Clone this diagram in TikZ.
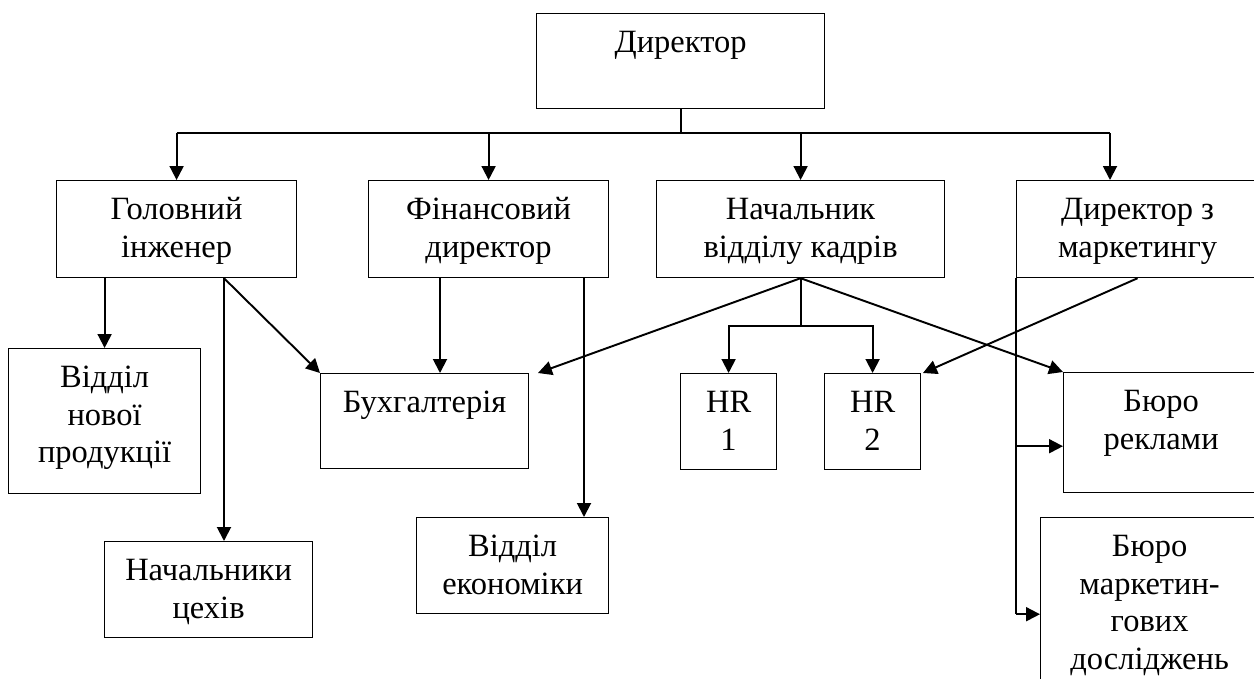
\documentclass[tikz,border=0pt]{standalone}
\usepackage{fontspec}
\setmainfont{Liberation Serif}
\usetikzlibrary{arrows.meta,positioning,calc}
\newlength{\pxu}
\setlength{\pxu}{0.2mm}
% text of a box, set from the top: width, height, text
\newcommand{\unittext}[3]{\parbox[t][#2\pxu][t]{#1\pxu}{\centering\strut #3}}

\begin{document}
\begin{tikzpicture}[x=0.02cm,y=-0.02cm,
  unit/.style={draw, line width=0.7pt, anchor=north west, inner xsep=0pt, inner ysep=2.6mm,
    font=\fontsize{18.5}{21.3}\selectfont},
  link/.style={line width=1.1pt},
  arr/.style={link, -{Triangle[length=2.8mm,width=2.8mm]}}]
\useasboundingbox (0,0) rectangle (1254,679);
% the boxes
\node[unit] (dir) at (536,13) {\unittext{288}{69}{Директор}};
\node[unit] (eng) at (56,180) {\unittext{240}{71}{Головний\\інженер}};
\node[unit] (fin) at (368,180) {\unittext{240}{71}{Фінансовий\\директор}};
\node[unit] (hr) at (656,180) {\unittext{288}{71}{Начальник\\відділу кадрів}};
\node[unit] (mkt) at (1016,180) {\unittext{242}{71}{Директор з\\маркетингу}};
\node[unit] (newp) at (8,348) {\unittext{192}{119}{Відділ\\нової\\продукції}};
\node[unit] (acc) at (320,373) {\unittext{208}{69}{Бухгалтерія}};
\node[unit] (hr1) at (680,373) {\unittext{96}{70}{HR\\1}};
\node[unit] (hr2) at (824,373) {\unittext{96}{70}{HR\\2}};
\node[unit] (adv) at (1063,372) {\unittext{195}{94}{Бюро\\реклами}};
\node[unit] (shops) at (104,541) {\unittext{208}{70}{Начальники\\цехів}};
\node[unit] (econ) at (416,517) {\unittext{192}{70}{Відділ\\економіки}};
\node[unit] (res) at (1040,517) {\unittext{218}{154}{Бюро\\маркетин-\\гових\\досліджень}};
% the director and the bus
\coordinate (mktin) at ($(mkt.north west)+(94,0)$);
\draw[link] (dir.south) -- ++(0,24) coordinate (bus);
\draw[link] (bus -| eng.north) -- (bus -| mktin);
\foreach \n in {eng,fin,hr}
  \draw[arr] (bus -| \n.north) -- (\n.north);
\draw[arr] (bus -| mktin) -- (mktin);
% chief engineer
\coordinate (engR) at ($(eng.south west)+(168,0)$);
\draw[arr] (eng.south -| newp.north) -- (newp.north);
\draw[arr] (engR) -- (engR |- shops.north);
\draw[arr] (engR) -- (acc.north west);
% finance
\coordinate (finL) at ($(fin.south west)+(72,0)$);
\coordinate (finR) at ($(fin.south west)+(216,0)$);
\draw[arr] (finL) -- (finL |- acc.north);
\draw[arr] (finR) -- (finR |- econ.north);
% personnel
\draw[arr] (hr.south) -- ([xshift=5pt]acc.north east);
\draw[link] (hr.south) -- ++(0,48) coordinate (fork);
\draw[arr] (fork) -| (hr1.north);
\draw[arr] (fork) -| (hr2.north);
\draw[arr] (hr.south) -- (adv.north west);
% marketing
\draw[arr] (mkt.south) -- ([xshift=1pt]hr2.north east);
\draw[link] (mkt.south west) -- ++(0,336) coordinate (mktlow);
\coordinate (mktmid) at ($(mkt.south west)+(0,168)$);
\draw[arr] (mktmid) -- (mktmid -| adv.west);
\draw[arr] (mktlow) -- (mktlow -| res.west);
\end{tikzpicture}
\end{document}
